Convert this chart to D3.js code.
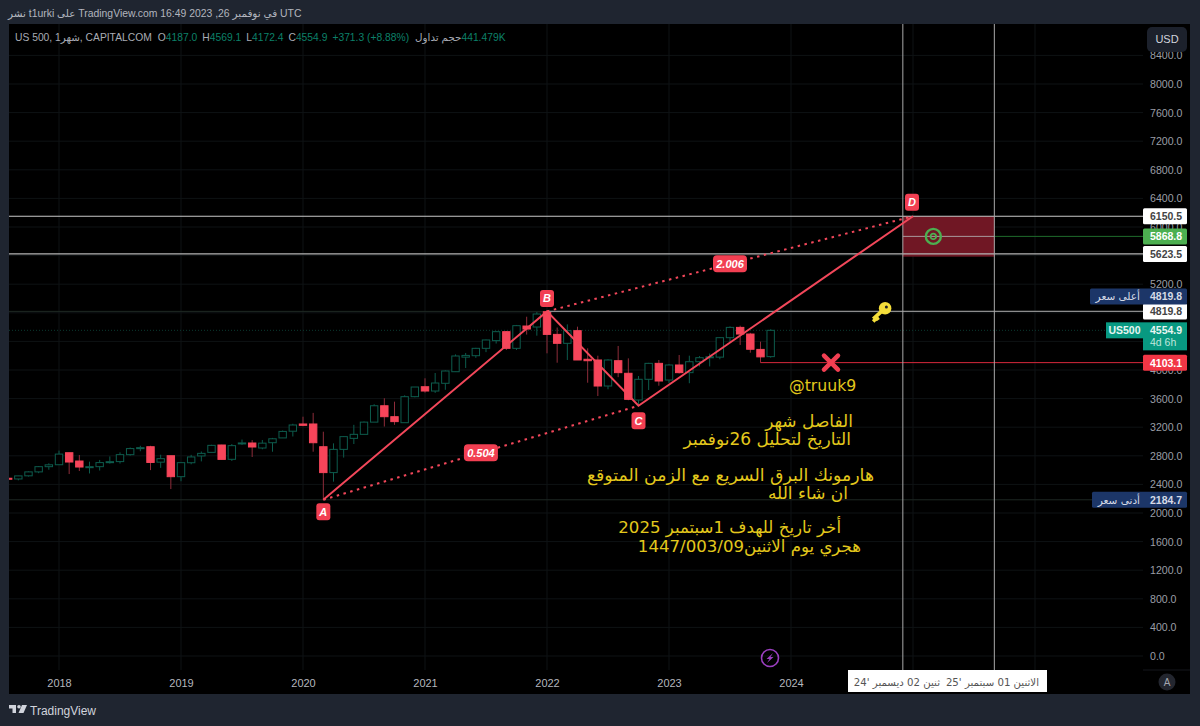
<!DOCTYPE html>
<html>
<head>
<meta charset="utf-8">
<script src="https://cdn.jsdelivr.net/npm/d3@7/dist/d3.min.js"></script>
<style>
    html, body { margin: 0; padding: 0; background: #1f2530; overflow: hidden; }
    svg { display: block; font-family: "Liberation Sans", "DejaVu Sans", sans-serif; }
</style>
</head>
<body>
<svg id="chart" width="1200" height="726"></svg>
<script>
// Monthly bars, first bar is Aug 2017
const firstMonth = [2017, 8];
const opens = [2486, 2476, 2520, 2575, 2648, 2675, 2843, 2727, 2641, 2648, 2705, 2719, 2816, 2901, 2927, 2711, 2801, 2508, 2703, 2798, 2848, 2951, 2751, 2971, 2979, 2909, 2983, 3050, 3144, 3245, 3245, 2927, 2565, 2890, 3044, 3100, 3271, 3500, 3347, 3263, 3627, 3766, 3706, 3814, 3976, 4180, 4200, 4303, 4411, 4536, 4303, 4615, 4601, 4815, 4498, 4373, 4550, 4150, 4140, 3776, 4130, 3954, 3580, 3870, 4093, 3860, 4070, 3963, 4116, 4172, 4180, 4452, 4596, 4503, 4288, 4187.0];
const highs = [2490, 2520, 2582, 2657, 2695, 2873, 2843, 2811, 2718, 2742, 2791, 2848, 2916, 2940, 2940, 2815, 2800, 2708, 2813, 2860, 2954, 2954, 2964, 3027, 3020, 3021, 3050, 3154, 3248, 3347, 3400, 3137, 2974, 3075, 3233, 3280, 3521, 3605, 3557, 3646, 3762, 3884, 3958, 3994, 4218, 4238, 4310, 4425, 4545, 4546, 4630, 4745, 4810, 4819.8, 4594, 4638, 4606, 4303, 4200, 4150, 4336, 4163, 3916, 4100, 4140, 4083, 4210, 4200, 4195, 4230, 4460, 4610, 4620, 4520, 4396, 4569.1];
const lows = [2470, 2457, 2510, 2557, 2605, 2675, 2545, 2587, 2553, 2594, 2691, 2692, 2802, 2864, 2600, 2631, 2335, 2444, 2681, 2722, 2848, 2750, 2728, 2952, 2783, 2891, 2857, 3050, 3070, 3214, 2857, 2184.7, 2438, 2775, 2965, 3115, 3280, 3209, 3233, 3279, 3618, 3683, 3680, 3723, 3976, 4028, 4170, 4250, 4370, 4280, 4280, 4495, 4480, 4233, 4102, 4140, 4140, 3822, 3636, 3730, 3900, 3577, 3500, 3720, 3780, 3820, 3950, 3815, 4050, 4050, 4150, 4390, 4350, 4242, 4103.1, 4172.4];
const closes = [2478, 2519, 2575, 2648, 2674, 2824, 2713, 2643, 2648, 2705, 2718, 2816, 2901, 2914, 2707, 2760, 2508, 2704, 2784, 2834, 2946, 2750, 2942, 2980, 2923, 2977, 3038, 3141, 3231, 3226, 2983, 2565, 2890, 3068, 3100, 3271, 3500, 3347, 3278, 3627, 3762, 3706, 3818, 3986, 4196, 4204, 4303, 4420, 4536, 4303, 4620, 4573, 4783, 4498, 4373, 4550, 4140, 4130, 3776, 4140, 3963, 3590, 3870, 4093, 3846, 4070, 3963, 4116, 4172, 4185, 4452, 4596, 4503, 4290, 4183.6, 4554.9];

// Harmonic pattern points as [year, month], prices alongside
const patternLabels = ["A", "B", "C", "D"];
const patternMonths = [[2020, 3], [2022, 1], [2022, 10], [2025, 1]];
const patternPrices = [2184.7, 4819.8, 3500, 6150.5];
const ratioLabels = ["0.504", "2.006"];

const priceTicks = d3.range(0, 8800, 400);
// these sit fully under a price tag in the reference
const coveredTicks = [4400, 4800, 5600];
const yearTicks = [2018, 2019, 2020, 2021, 2022, 2023, 2024];

const targetHigh = 6150.5;
const targetMid = 5868.8;
const targetLow = 5623.5;
const zoneBottom = 5585;
const allTimeHigh = 4819.8;
const allTimeLow = 2184.7;
const stopPrice = 4103.1;
const volumeText = "441.479K";
const zoneMonths = [[2024, 12], [2025, 9]];

const noteLines = [
    "الفاصل شهر",
    "التاريخ لتحليل 26نوفمبر",
    "هارمونك البرق السريع مع الزمن المتوقع",
    "ان شاء الله",
    "أخر تاريخ للهدف 1سبتمبر 2025",
    "هجري يوم الاثنين1447/003/09"
];

const chartLeft = 9, chartRight = 1190, chartTop = 24, chartBottom = 694;
const axisX = 1143, axisY = 670;
const red = "#f7455a", teal = "#0d5c4d", yellow = "#e3c81c", fmt = d3.format(".1f");

const svg = d3.select("#chart");

const monthIndex = (d) => (d[0] - 2018) * 12 + d[1] - 1;
const firstIndex = monthIndex(firstMonth);
const x = d3.scaleLinear().domain([0, 72]).range([59, 791]);
const y = d3.scaleLinear().domain([0, 8000]).range([656, 84]);
const xm = (d) => x(monthIndex(d));

const candles = opens.map((o, i) => ({
    i: firstIndex + i, o, h: highs[i], l: lows[i], c: closes[i]
}));
const last = candles[candles.length - 1];
const prevClose = candles[candles.length - 2].c;

svg.append("defs").append("clipPath").attr("id", "plot").append("rect")
    .attr("x", chartLeft).attr("y", chartTop)
    .attr("width", axisX - chartLeft).attr("height", axisY - chartTop);

svg.append("rect").attr("x", chartLeft).attr("y", chartTop)
    .attr("width", chartRight - chartLeft).attr("height", chartBottom - chartTop)
    .attr("fill", "#000");

// Grid
const grid = svg.append("g").attr("clip-path", "url(#plot)").attr("stroke", "#0e1214");
grid.selectAll("line.h").data(priceTicks).join("line").attr("class", "h")
    .attr("x1", chartLeft).attr("x2", axisX).attr("y1", y).attr("y2", y);
grid.selectAll("line.v").data(d3.range(2018, 2027)).join("line").attr("class", "v")
    .attr("x1", (d) => xm([d, 1])).attr("x2", (d) => xm([d, 1]))
    .attr("y1", chartTop).attr("y2", axisY);

const plot = svg.append("g").attr("clip-path", "url(#plot)");

// Faint level lines
plot.append("line").attr("x1", chartLeft).attr("x2", axisX)
    .attr("y1", y(allTimeLow)).attr("y2", y(allTimeLow)).attr("stroke", "#1e2823");
plot.append("line").attr("x1", chartLeft).attr("x2", axisX)
    .attr("y1", y(allTimeHigh)).attr("y2", y(allTimeHigh)).attr("stroke", "#1e2823");
plot.append("line").attr("x1", chartLeft).attr("x2", axisX)
    .attr("y1", y(last.c)).attr("y2", y(last.c))
    .attr("stroke", "#0a3a30").attr("stroke-dasharray", "1 2");

// Candles
const bar = plot.selectAll("g.bar").data(candles).join("g").attr("class", "bar");
bar.append("line")
    .attr("x1", (d) => x(d.i)).attr("x2", (d) => x(d.i))
    .attr("y1", (d) => y(d.h)).attr("y2", (d) => y(d.l))
    .attr("stroke", (d) => (d.c >= d.o ? teal : "#8e2c3a"));
bar.append("rect")
    .attr("x", (d) => x(d.i) - 3.7).attr("width", 7.4)
    .attr("y", (d) => y(Math.max(d.o, d.c)))
    .attr("height", (d) => Math.max(1, Math.abs(y(d.o) - y(d.c))))
    .attr("fill", (d) => (d.c >= d.o ? "#000" : red))
    .attr("stroke", (d) => (d.c >= d.o ? teal : red));

// Target zone
const zoneX = zoneMonths.map(xm);
plot.append("rect").attr("x", zoneX[0]).attr("width", zoneX[1] - zoneX[0])
    .attr("y", y(targetHigh)).attr("height", y(zoneBottom) - y(targetHigh))
    .attr("fill", "#701724");

// Levels
plot.append("line").attr("x1", chartLeft).attr("x2", axisX)
    .attr("y1", y(targetHigh)).attr("y2", y(targetHigh))
    .attr("stroke", "#c9c9c9").attr("stroke-width", 1.2);
plot.append("line").attr("x1", chartLeft).attr("x2", axisX)
    .attr("y1", y(targetLow)).attr("y2", y(targetLow))
    .attr("stroke", "#b5b5b5").attr("stroke-width", 1.4);
plot.append("line").attr("x1", zoneX[0]).attr("x2", zoneX[1])
    .attr("y1", y(targetMid)).attr("y2", y(targetMid)).attr("stroke", "#a89a9c");
plot.append("line").attr("x1", zoneX[1]).attr("x2", axisX)
    .attr("y1", y(targetMid)).attr("y2", y(targetMid)).attr("stroke", "#1f6b2c");
plot.append("line").attr("x1", xm(patternMonths[1])).attr("x2", axisX)
    .attr("y1", y(allTimeHigh)).attr("y2", y(allTimeHigh))
    .attr("stroke", "#8c8c8c").attr("stroke-width", 1.4);
plot.append("line").attr("x1", x(last.i - 1)).attr("x2", axisX)
    .attr("y1", y(stopPrice)).attr("y2", y(stopPrice)).attr("stroke", "#d8283c");

// Vertical time lines
plot.selectAll("line.t").data(zoneMonths).join("line").attr("class", "t")
    .attr("x1", xm).attr("x2", xm).attr("y1", chartTop).attr("y2", axisY)
    .attr("stroke", "#a9a9a9");

// Pattern legs
const pts = patternLabels.map((name, i) => ({
    name, px: xm(patternMonths[i]), py: y(patternPrices[i])
}));
const legLine = d3.line().x((d) => d.px).y((d) => d.py);
plot.append("path").attr("d", legLine(pts)).attr("fill", "none")
    .attr("stroke", "#f2475a").attr("stroke-width", 2);
const ratioPairs = [[pts[0], pts[2]], [pts[1], pts[3]]];
plot.selectAll("path.ratio").data(ratioPairs).join("path").attr("class", "ratio")
    .attr("d", legLine).attr("fill", "none").attr("stroke", "#f2475a")
    .attr("stroke-width", 2).attr("stroke-dasharray", "2.5 4.5");

// Ratio pills
ratioPairs.forEach((pair, i) => {
    const mx = (pair[0].px + pair[1].px) / 2, my = (pair[0].py + pair[1].py) / 2;
    svg.append("rect").attr("x", mx - 17).attr("y", my - 8.5).attr("width", 34).attr("height", 17)
        .attr("rx", 4).attr("fill", "#f23f52");
    svg.append("text").attr("x", mx).attr("y", my + 4).attr("text-anchor", "middle")
        .attr("fill", "#fff").attr("font-size", 11).attr("font-weight", "bold")
        .attr("font-style", "italic").text(ratioLabels[i]);
});

// A B C D markers
const labelOffsets = [12, -13, 15, -14];
pts.forEach((p, i) => {
    const cy = p.py + labelOffsets[i], cx = i === 3 ? p.px - 1 : p.px;
    svg.append("rect").attr("x", cx - 7).attr("y", cy - 8.5).attr("width", 14).attr("height", 17)
        .attr("rx", 3).attr("fill", "#f23f52");
    svg.append("text").attr("x", cx).attr("y", cy + 4).attr("text-anchor", "middle")
        .attr("fill", "#fff").attr("font-size", 11).attr("font-weight", "bold")
        .attr("font-style", "italic").text(p.name);
});

// Icons
const target = svg.append("g").attr("transform", `translate(${x(monthIndex(zoneMonths[0]) + 3)},${y(targetMid)})`)
    .attr("fill", "none").attr("stroke", "#4caf50");
target.append("circle").attr("r", 7.5).attr("stroke-width", 2.4);
target.append("circle").attr("r", 2.8).attr("stroke-width", 1.8);

const cross = svg.append("g").attr("transform", `translate(831,${y(stopPrice)})`)
    .attr("stroke", "#f23f52").attr("stroke-width", 4.5).attr("stroke-linecap", "round");
cross.append("line").attr("x1", -7).attr("y1", -7).attr("x2", 7).attr("y2", 7);
cross.append("line").attr("x1", 7).attr("y1", -7).attr("x2", -7).attr("y2", 7);

const key = svg.append("g").attr("transform", `translate(882,${y(allTimeHigh)}) scale(1.25)`);
key.append("path").attr("d", "M3,-3 L-7,6 M-5,4 L-3,7 M-7,6 L-5,8")
    .attr("stroke", "#f5de3a").attr("stroke-width", 3).attr("fill", "none");
key.append("circle").attr("cx", 2.5).attr("cy", -2.5).attr("r", 5).attr("fill", "#f5de3a");
key.append("circle").attr("cx", 3.5).attr("cy", -3.5).attr("r", 1.2).attr("fill", "#222");

const bolt = svg.append("g").attr("transform", "translate(770,658)");
bolt.append("circle").attr("r", 8.5).attr("fill", "none").attr("stroke", "#9b3fc0").attr("stroke-width", 1.6);
bolt.append("path").attr("d", "M3,-5 L-3.5,1 L-0.5,1 L-3,5 L3.5,-1 L0.5,-1 Z").attr("fill", "#9b3fc0");

// Yellow notes
svg.append("text").attr("x", 789).attr("y", 391).attr("fill", yellow)
    .attr("font-family", "DejaVu Sans").attr("font-size", 15.7).text("@truuk9");
const noteRight = [853, 851, 874, 848, 841, 861];
const noteY = [427, 445, 481, 499, 533, 552];
const noteSize = [17, 17, 17.3, 17, 16.6, 16.6];
svg.selectAll("text.note").data(noteLines).join("text").attr("class", "note")
    .attr("x", (d, i) => noteRight[i]).attr("y", (d, i) => noteY[i])
    .attr("direction", "rtl").attr("text-anchor", "start")
    .attr("font-family", "DejaVu Sans").attr("font-size", (d, i) => noteSize[i])
    .attr("fill", yellow).text((d) => d);

// Price axis
const yAxis = svg.append("g").attr("transform", `translate(${axisX + 4},0)`)
    .call(d3.axisRight(y).tickValues(priceTicks.filter((d) => !coveredTicks.includes(d)))
        .tickFormat(fmt).tickSize(0));
yAxis.select(".domain").remove();
yAxis.selectAll("text").attr("font-size", 10.6).attr("fill", "#9a9da5")
    .attr("font-family", "Liberation Sans").attr("x", 3);

svg.append("line").attr("x1", axisX).attr("x2", chartRight).attr("y1", axisY).attr("y2", axisY).attr("stroke", "#14171c");

// Time axis
const xAxis = svg.append("g").attr("transform", `translate(0,${axisY + 6})`)
    .call(d3.axisBottom(x).tickValues(yearTicks.map((d) => monthIndex([d, 1])))
        .tickFormat((d) => 2018 + d / 12).tickSize(0));
xAxis.select(".domain").remove();
xAxis.selectAll("text").attr("font-size", 11).attr("fill", "#b4b7be")
    .attr("font-family", "Liberation Sans");

// Price tags on the scale
function tag(price, fill, color, text) {
    const cy = y(price);
    svg.append("rect").attr("x", axisX).attr("y", cy - 8).attr("width", 44).attr("height", 16)
        .attr("rx", 1.5).attr("fill", fill);
    svg.append("text").attr("x", axisX + 7).attr("y", cy + 4).attr("font-size", 10.5)
        .attr("font-weight", "bold").attr("fill", color).text(text || fmt(price));
}
tag(targetHigh, "#fff", "#444");
tag(targetMid, "#4caf50", "#fff");
tag(targetLow, "#fff", "#444");
tag(allTimeHigh, "#fff", "#444");
tag(stopPrice, "#f23645", "#fff");

function sideTag(cy, left, name) {
    svg.append("rect").attr("x", left).attr("y", cy - 8).attr("width", 1187 - left).attr("height", 16)
        .attr("rx", 1.5).attr("fill", "#1c3668");
    svg.append("text").attr("x", axisX - 3).attr("y", cy + 4).attr("direction", "rtl")
        .attr("font-size", 10.5).attr("fill", "#d5dae6").attr("font-family", "DejaVu Sans").text(name);
}
sideTag(y(allTimeHigh) - 15, 1090, "أعلى سعر");
svg.append("text").attr("x", axisX + 7).attr("y", y(allTimeHigh) - 11).attr("font-size", 10.5)
    .attr("font-weight", "bold").attr("fill", "#d5dae6").text(fmt(allTimeHigh));
sideTag(y(allTimeLow), 1092, "أدنى سعر");
svg.append("text").attr("x", axisX + 7).attr("y", y(allTimeLow) + 4).attr("font-size", 10.5)
    .attr("font-weight", "bold").attr("fill", "#d5dae6").text(fmt(allTimeLow));

// Current price block
svg.append("rect").attr("x", 1106).attr("y", y(last.c) - 8).attr("width", 37).attr("height", 16)
    .attr("fill", "#089981");
svg.append("text").attr("x", 1124.5).attr("y", y(last.c) + 4).attr("text-anchor", "middle")
    .attr("font-size", 10.5).attr("font-weight", "bold").attr("fill", "#e6f5f1").text("US500");
svg.append("rect").attr("x", axisX).attr("y", y(last.c) - 8).attr("width", 44).attr("height", 28)
    .attr("fill", "#089981");
svg.append("text").attr("x", axisX + 7).attr("y", y(last.c) + 4).attr("font-size", 10.5)
    .attr("font-weight", "bold").attr("fill", "#e6f5f1").text(fmt(last.c));
svg.append("text").attr("x", axisX + 7).attr("y", y(last.c) + 16).attr("font-size", 10.5)
    .attr("fill", "#bfe6dc").text("4d 6h");

// USD button
svg.append("rect").attr("x", 1147).attr("y", 27).attr("width", 40).attr("height", 25).attr("rx", 5)
    .attr("fill", "#1c212c");
svg.append("text").attr("x", 1167).attr("y", 43).attr("text-anchor", "middle").attr("font-size", 11)
    .attr("fill", "#d1d4dc").text("USD");

// A button
svg.append("circle").attr("cx", 1167).attr("cy", 682).attr("r", 8.5).attr("fill", "#23262f");
svg.append("text").attr("x", 1167).attr("y", 686).attr("text-anchor", "middle").attr("font-size", 10)
    .attr("fill", "#a3a6ae").text("A");

// Date tags
svg.append("rect").attr("x", 848).attr("y", axisY).attr("width", 199).attr("height", 22).attr("fill", "#fff");
svg.append("text").attr("x", 1039).attr("y", 686).attr("direction", "rtl").attr("font-size", 10.2)
    .attr("fill", "#555").attr("font-family", "DejaVu Sans").text("الاثنين 01 سبتمبر '25");
svg.append("text").attr("x", 940).attr("y", 686).attr("direction", "rtl").attr("font-size", 10.2)
    .attr("fill", "#555").attr("font-family", "DejaVu Sans").text("ثنين 02 ديسمبر '24");

// Header line
svg.append("text").attr("x", 8).attr("y", 17).attr("direction", "ltr").attr("font-size", 10.4)
    .attr("fill", "#b2b5be")
    .text("نشر t1urki على TradingView.com 16:49 2023 ,26 في نوفمبر UTC");

// Legend, laid out piece by piece so the Arabic runs keep their place
const grey = "#a9acb4", green = "#0c8069";
const change = last.c - prevClose;
const legendParts = [
    ["US 500, 1شهر, CAPITALCOM", grey, 6],
    ["O", grey, 0], [fmt(last.o), green, 5],
    ["H", grey, 0], [fmt(last.h), green, 5],
    ["L", grey, 0], [fmt(last.l), green, 5],
    ["C", grey, 0], [fmt(last.c), green, 5],
    [`+${fmt(change)} (+${d3.format(".2f")(change / prevClose * 100)}%)`, green, 6],
    ["حجم تداول", grey, 0], [volumeText, green, 0]
];
let legendX = 15;
legendParts.forEach(([label, color, gap]) => {
    const t = svg.append("text").attr("x", legendX).attr("y", 41).attr("font-size", 10.3)
        .attr("fill", color).text(label);
    legendX += t.node().getComputedTextLength() + gap;
});

// Footer logo
const logo = svg.append("g").attr("transform", "translate(9,705)").attr("fill", "#d1d4dc");
logo.append("path").attr("d", "M0,0 H7 V8 H3.5 V3.5 H0 Z");
logo.append("circle").attr("cx", 10).attr("cy", 1.8).attr("r", 1.8);
logo.append("path").attr("d", "M13,0 H18 L14.5,8 H9.5 Z");
svg.append("text").attr("x", 30).attr("y", 715).attr("font-size", 12)
    .attr("fill", "#d1d4dc").text("TradingView");
</script>
</body>
</html>
